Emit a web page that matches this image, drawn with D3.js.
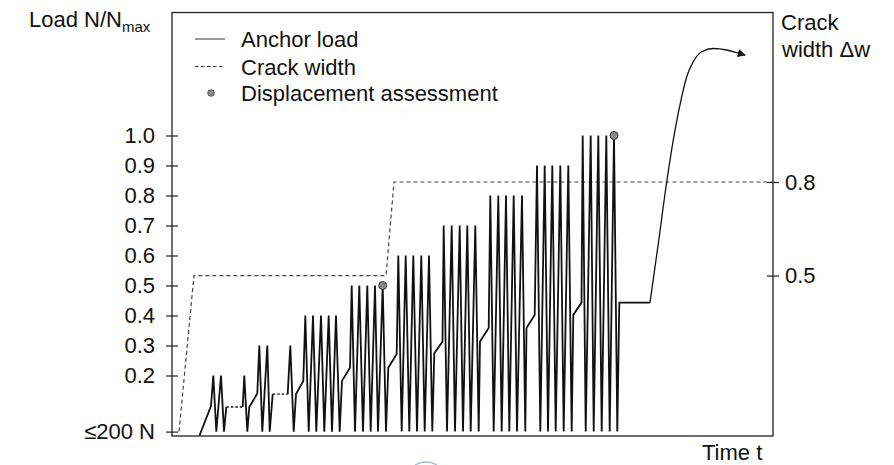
<!DOCTYPE html>
<html>
<head>
<meta charset="utf-8">
<script src="https://cdn.jsdelivr.net/npm/d3@7"></script>
<style>
  html, body { margin: 0; padding: 0; background: #fff; }
  svg { display: block; font-family: "Liberation Sans", Arial, Helvetica, sans-serif; }
</style>
</head>
<body>
<svg id="chart" width="894" height="465"></svg>
<script>
// ---- Axis ticks -------------------------------------------------------------
// Load as a fraction of N_max; the lowest tick marks the ≤200 N preload level.
const loadTicks = [0.013, 0.2, 0.3, 0.4, 0.5, 0.6, 0.7, 0.8, 0.9, 1.0];
const loadTickLabels = ["≤200 N", "0.2", "0.3", "0.4", "0.5", "0.6", "0.7", "0.8", "0.9", "1.0"];
const crackTicks = [0.5, 0.8];
const crackTickLabels = ["0.5", "0.8"];

// ---- Anchor load history (time units, N/N_max) -----------------------------
// "s" = solid segment to the next point, "h" = load held constant (dotted).
const loadTime = [
  27.5, 39, 41.3, 44.3, 49, 52, 54.3, 70.7, 72.3, 75.3, 77.3,
  85.3, 87.3, 90.3, 95.3, 97.7, 100.7, 115.7, 118.3, 121.7, 124,
  131.3, 133.3, 136.7, 141, 144.3, 149, 152.3, 156.7, 160, 164, 167.7, 170,
  178, 179.7, 183, 187.3, 191, 195.3, 198.7, 203, 206, 210.7, 214, 216.3,
  224.7, 226.3, 229.7, 233.7, 237.3, 241.3, 245, 249.3, 252.7, 257, 260.3, 262.3,
  270.5, 271.7, 275, 279.7, 283, 287.7, 291, 295.3, 298.7, 303.3, 306.7, 308,
  316.7, 318.3, 321.7, 326.3, 329.7, 334, 337.3, 341.7, 345, 350, 353.3, 354.5,
  362.7, 365, 368.3, 372.7, 376, 380.3, 383.7, 388.3, 391.7, 396.3, 399.7, 401.3,
  409.5, 410.7, 413.7, 418.7, 421.7, 426.3, 429.7, 434.3, 437.7, 442, 445.3, 447.3,
  478
];
const loadValue = [
  0, 0.098, 0.2, 0.013, 0.2, 0.013, 0.095, 0.095, 0.2, 0.013, 0.095,
  0.14, 0.3, 0.013, 0.3, 0.013, 0.138, 0.138, 0.3, 0.013, 0.138,
  0.182, 0.4, 0.013, 0.4, 0.013, 0.4, 0.013, 0.4, 0.013, 0.4, 0.013, 0.182,
  0.226, 0.5, 0.013, 0.5, 0.013, 0.5, 0.013, 0.5, 0.013, 0.5, 0.013, 0.226,
  0.272, 0.6, 0.013, 0.6, 0.013, 0.6, 0.013, 0.6, 0.013, 0.6, 0.013, 0.274,
  0.313, 0.7, 0.013, 0.7, 0.013, 0.7, 0.013, 0.7, 0.013, 0.7, 0.013, 0.313,
  0.358, 0.8, 0.013, 0.8, 0.013, 0.8, 0.013, 0.8, 0.013, 0.8, 0.013, 0.358,
  0.402, 0.9, 0.013, 0.9, 0.013, 0.9, 0.013, 0.9, 0.013, 0.9, 0.013, 0.402,
  0.443, 1.0, 0.013, 1.0, 0.013, 1.0, 0.013, 1.0, 0.013, 1.0, 0.013, 0.443,
  0.443
];
const loadStyle = loadTime.map((_, i) => (i === 6 || i === 16) ? "h" : "s");

// Final loading to failure after the last cycle block
const failTime  = [478, 486.3, 494.7, 503, 509.7, 514.7, 521.3, 529.7, 541.3, 554.7, 564.7, 573];
const failValue = [0.443, 0.64, 0.845, 1.018, 1.129, 1.196, 1.246, 1.279, 1.29, 1.285, 1.276, 1.268];

// ---- Crack width history ---------------------------------------------------
const crackTime  = [7, 22, 214, 222, 601];
const crackValue = [0, 0.5, 0.5, 0.8, 0.8];

// ---- Displacement assessment points ---------------------------------------
const assessTime  = [210.7, 442];
const assessValue = [0.5, 1.0];

const legendLabels = ["Anchor load", "Crack width", "Displacement assessment"];

// ---- Layout ----------------------------------------------------------------
const svg = d3.select("#chart");
const margin = { top: 12.5, right: 121, bottom: 29, left: 172 };
const W = 894 - margin.left - margin.right;
const H = 465 - margin.top - margin.bottom;
const FS = 22;

const x = d3.scaleLinear().domain([0, 601]).range([0, W]);
const y = d3.scaleLinear().domain([0, 1]).range([423, 123]);
const yCrack = d3.scaleLinear().domain([0, 0.8]).range([419, 169.5]);

const g = svg.append("g").attr("transform", `translate(${margin.left},${margin.top})`);

// Frame
g.append("rect")
  .attr("x", 0).attr("y", 0).attr("width", W).attr("height", H)
  .attr("fill", "none").attr("stroke", "#222").attr("stroke-width", 1.3);

// Left axis (ticks cross the axis line)
const yAxis = g.append("g")
  .call(d3.axisLeft(y).tickValues(loadTicks)
    .tickFormat((d, i) => loadTickLabels[i]).tickSize(6).tickPadding(11));
yAxis.select(".domain").remove();
yAxis.selectAll(".tick line").attr("x1", 6).attr("stroke", "#222").attr("stroke-width", 1.2);
yAxis.selectAll(".tick text").attr("font-size", FS).attr("fill", "#111")
  .attr("font-family", "'Liberation Sans', Arial, sans-serif");

// Right axis for crack width
const yAxisR = g.append("g").attr("transform", `translate(${W},0)`)
  .call(d3.axisRight(yCrack).tickValues(crackTicks)
    .tickFormat((d, i) => crackTickLabels[i]).tickSize(6).tickPadding(6));
yAxisR.select(".domain").remove();
yAxisR.selectAll(".tick line").attr("x1", -6).attr("stroke", "#222").attr("stroke-width", 1.2);
yAxisR.selectAll(".tick text").attr("font-size", FS).attr("fill", "#111")
  .attr("font-family", "'Liberation Sans', Arial, sans-serif");

// Crack width (dashed)
const crackLine = d3.line().x((d, i) => x(crackTime[i])).y((d, i) => yCrack(crackValue[i]));
g.append("path")
  .attr("d", crackLine(crackTime))
  .attr("fill", "none").attr("stroke", "#444").attr("stroke-width", 1.2)
  .attr("stroke-dasharray", "4,3");

// Anchor load: split into solid and held (dotted) runs
const segs = [];
let cur = { style: loadStyle[0], idx: [0] };
for (let i = 1; i < loadTime.length; i++) {
  cur.idx.push(i);
  if (i < loadTime.length - 1 && loadStyle[i] !== cur.style) {
    segs.push(cur);
    cur = { style: loadStyle[i], idx: [i] };
  }
}
segs.push(cur);

const loadLine = d3.line().x(i => x(loadTime[i])).y(i => y(loadValue[i]));
g.selectAll("path.load")
  .data(segs)
  .join("path")
  .attr("class", "load")
  .attr("d", s => loadLine(s.idx))
  .attr("fill", "none")
  .attr("stroke", "#111")
  .attr("stroke-width", s => s.style === "h" ? 1.4 : 1.8)
  .attr("stroke-dasharray", s => s.style === "h" ? "2.5,2" : null)
  .attr("stroke-linejoin", "miter")
  .attr("stroke-miterlimit", 10);

// Arrowhead for the failure curve
svg.append("defs").append("marker")
  .attr("id", "arrow")
  .attr("viewBox", "0 0 10 10")
  .attr("refX", 9).attr("refY", 5)
  .attr("markerWidth", 9).attr("markerHeight", 8)
  .attr("markerUnits", "userSpaceOnUse")
  .attr("orient", "auto")
  .append("path").attr("d", "M0,0 L10,5 L0,10 Z").attr("fill", "#111");

const failLine = d3.line().curve(d3.curveMonotoneX)
  .x((d, i) => x(failTime[i])).y((d, i) => y(failValue[i]));
g.append("path")
  .attr("d", failLine(failTime))
  .attr("fill", "none").attr("stroke", "#111").attr("stroke-width", 1.3)
  .attr("marker-end", "url(#arrow)");

// Displacement assessment markers
g.selectAll("circle.assess")
  .data(assessTime)
  .join("circle")
  .attr("class", "assess")
  .attr("cx", (d, i) => x(assessTime[i]))
  .attr("cy", (d, i) => y(assessValue[i]))
  .attr("r", 4)
  .attr("fill", "#8a8a8a").attr("stroke", "#333").attr("stroke-width", 1);

// Legend
const lg = g.append("g");
const legY = [26.5, 54, 80.5];
lg.append("line").attr("x1", 23).attr("x2", 53).attr("y1", legY[0]).attr("y2", legY[0])
  .attr("stroke", "#555").attr("stroke-width", 1.2);
lg.append("line").attr("x1", 23).attr("x2", 53).attr("y1", legY[1]).attr("y2", legY[1])
  .attr("stroke", "#333").attr("stroke-width", 1.1).attr("stroke-dasharray", "3.5,2.5");
lg.append("circle").attr("cx", 39).attr("cy", legY[2]).attr("r", 3.3)
  .attr("fill", "#8a8a8a").attr("stroke", "#444").attr("stroke-width", 0.8);
lg.selectAll("text")
  .data(legendLabels)
  .join("text")
  .attr("x", 69)
  .attr("y", (d, i) => legY[i] + 8)
  .attr("font-size", FS)
  .attr("fill", "#111")
  .text(d => d);

// Axis titles
const tl = svg.append("text").attr("x", 29).attr("y", 27).attr("font-size", FS).attr("fill", "#111");
tl.append("tspan").text("Load N/N");
tl.append("tspan").attr("font-size", 15).attr("dy", 5).text("max");

svg.append("text").attr("x", 781).attr("y", 30).attr("font-size", FS).attr("fill", "#111").text("Crack");
svg.append("text").attr("x", 782).attr("y", 57).attr("font-size", FS).attr("fill", "#111").text("width Δw");

svg.append("text").attr("x", 702).attr("y", 460).attr("font-size", FS).attr("fill", "#111").text("Time t");

// Faint circular outline at the lower edge
svg.append("circle").attr("cx", 426).attr("cy", 482).attr("r", 20)
  .attr("fill", "none").attr("stroke", "#9aa6c8").attr("stroke-width", 1.3).attr("opacity", 0.8);
</script>
</body>
</html>
